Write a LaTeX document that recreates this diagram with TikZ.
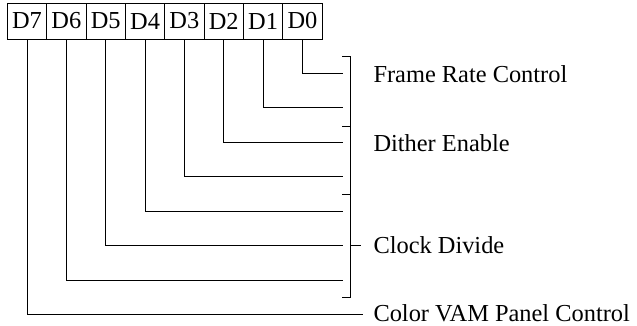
\documentclass[tikz,border=0pt]{standalone}
\usepackage{fontspec}
\setmainfont{Liberation Serif}

\begin{document}
\begin{tikzpicture}[x=1pt, y=-1pt, line width=1.0pt, line cap=rect,
    bit/.style={draw, line width=1.0pt, minimum width=39.35pt, minimum height=36pt,
                inner sep=0pt, font=\fontsize{24.4}{29}\selectfont},
    lbl/.style={anchor=base west, inner sep=0pt, font=\fontsize{24.4}{29}\selectfont}]

  %% ════ 位框 D7 … D0 ════
  \foreach \b [count=\i from 0] in {7,6,5,4,3,2,1,0}
    \node[bit] (d\b) at (27+39.35*\i, 21) {D\b};

  %% ════ 引线终点（x=342，D7 伸到 362）════
  \foreach \b [count=\i from 0] in {0,1,2,3,4,5,6}
    \coordinate (e\b) at (342, 73+34.5*\i);
  \coordinate (e7) at (362, 314.5);

  %% ════ 引线：位框下边 → 右 ════
  \foreach \b in {0,...,7}
    \draw (d\b.south) |- (e\b);

  %% ════ 括号 ════
  \draw (342,56) -- (350,56) -- (350,297) -- (342,297);
  \draw (342,126) -- (350,126);
  \draw (342,194) -- (350,194);
  \draw (350,245.5) -- (360,245.5);

  %% ════ 标签 ════
  \node[lbl] (frc)  at (373, 82)    {Frame Rate Control};
  \node[lbl] (dith) at (373, 151)   {Dither Enable};
  \node[lbl] (clk)  at (373, 253.5) {Clock Divide};
  \node[lbl] (vam)  at (373, 321.5) {Color VAM Panel Control};

  % 钉死画布
  \pgfresetboundingbox
  \path[use as bounding box] (0,0) rectangle (637,325);
\end{tikzpicture}
\end{document}
